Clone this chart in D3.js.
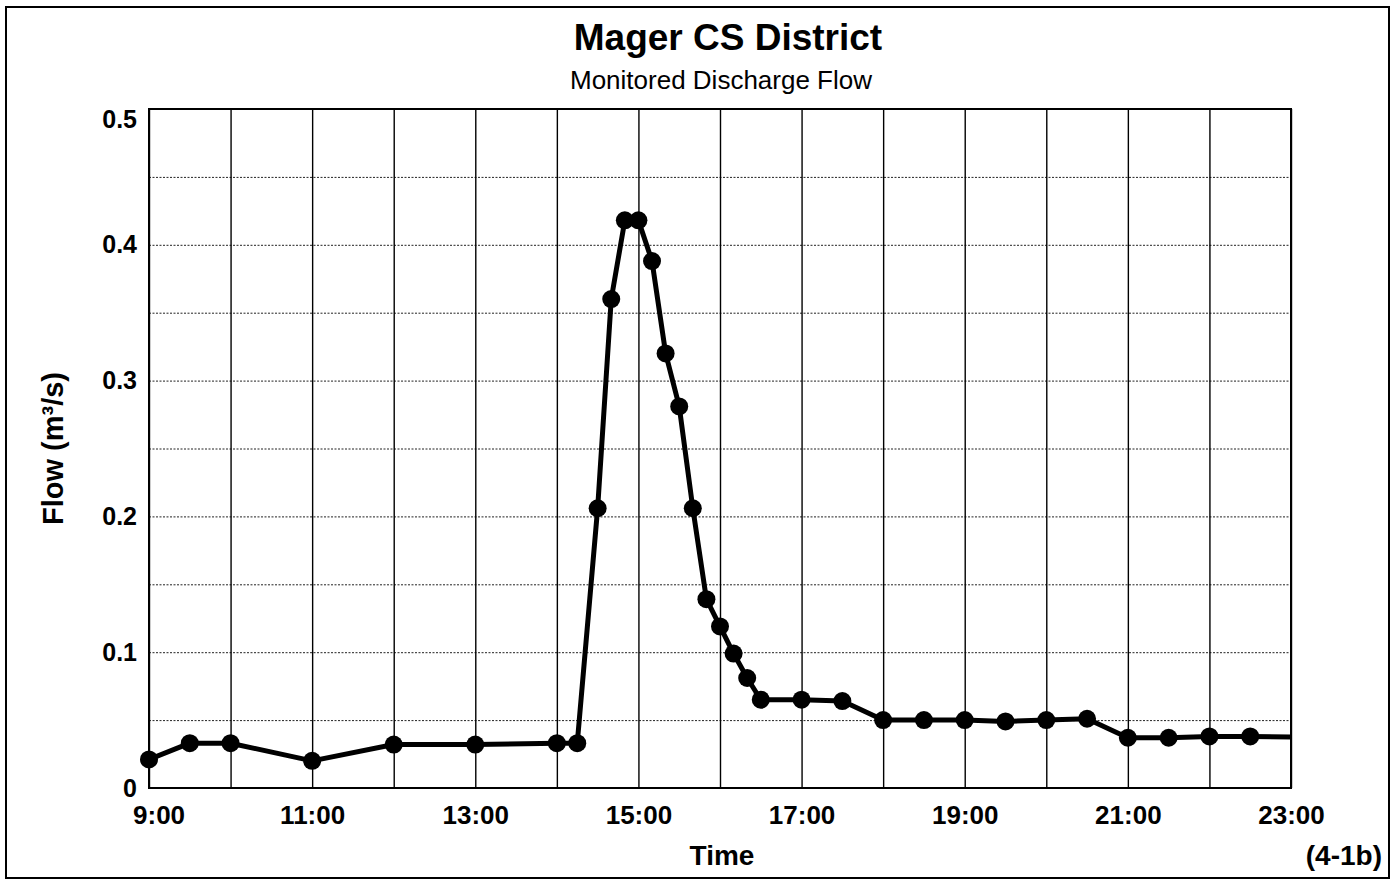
<!DOCTYPE html>
<html><head><meta charset="utf-8">
<script src="https://cdn.jsdelivr.net/npm/d3@7/dist/d3.min.js"></script>
<style>
html,body{margin:0;padding:0;background:#fff;}
svg{display:block;font-family:"Liberation Sans",Arial,Helvetica,sans-serif;}
</style></head><body>
<svg id="chart" width="1395" height="888"></svg>
<script>
// ---- data ----
const times = ["9:00","9:30","10:00","11:00","12:00","13:00","14:00","14:15","14:30","14:40","14:50","15:00",
  "15:10","15:20","15:30","15:40","15:50","16:00","16:10","16:20","16:30","17:00","17:30","18:00","18:30",
  "19:00","19:30","20:00","20:30","21:00","21:30","22:00","22:30","23:30"];
const flows = [0.021,0.033,0.033,0.020,0.032,0.032,0.033,0.033,0.206,0.360,0.418,0.418,
  0.388,0.320,0.281,0.206,0.139,0.119,0.099,0.081,0.065,0.065,0.064,0.050,0.050,
  0.050,0.049,0.050,0.051,0.037,0.037,0.038,0.038,0.037];
const xDomain = ["9:00","23:00"];
const xTickLabels = ["9:00","11:00","13:00","15:00","17:00","19:00","21:00","23:00"];
const xGridTimes = ["9:00","10:00","11:00","12:00","13:00","14:00","15:00","16:00","17:00","18:00","19:00","20:00","21:00","22:00","23:00"];
const yDomain = [0,0.5];
const yTickValues = [0,0.1,0.2,0.3,0.4,0.5];
const yGridValues = [0.05,0.1,0.15,0.2,0.25,0.3,0.35,0.4,0.45];
const titleText = "Mager CS District";
const subtitleText = "Monitored Discharge Flow";
const xTitleText = "Time";
const yTitleText = "Flow (m³/s)";
const figLabelText = "(4-1b)";

// ---- layout ----
const W = 1395, H = 888;
const plot = {left:149, top:109, right:1291, bottom:788};
const parse = d3.timeParse("%H:%M");
const fmt = d3.timeFormat("%-H:%M");

const svg = d3.select("#chart");
svg.append("rect").attr("x",0).attr("y",0).attr("width",W).attr("height",H).attr("fill","#fff");
// outer frame
svg.append("rect").attr("x",6).attr("y",7).attr("width",1383).attr("height",871)
  .attr("fill","none").attr("stroke","#000").attr("stroke-width",2);

const x = d3.scaleTime().domain(xDomain.map(parse)).range([plot.left, plot.right]);
const y = d3.scaleLinear().domain(yDomain).range([plot.bottom, plot.top]);
const pw = plot.right - plot.left, ph = plot.bottom - plot.top;

// horizontal dotted gridlines
svg.append("g").attr("transform",`translate(${plot.left},0)`)
  .call(d3.axisLeft(y).tickValues(yGridValues).tickSize(-pw).tickFormat(""))
  .call(g=>g.select(".domain").remove())
  .call(g=>g.selectAll(".tick line").attr("stroke","#222").attr("stroke-width",1).attr("stroke-dasharray","2,1.5"));

// vertical solid gridlines
svg.append("g").attr("transform",`translate(0,${plot.bottom})`)
  .call(d3.axisBottom(x).tickValues(xGridTimes.map(parse)).tickSize(-ph).tickFormat(""))
  .call(g=>g.select(".domain").remove())
  .call(g=>g.selectAll(".tick line").attr("stroke","#000").attr("stroke-width",1.4));

// plot border
svg.append("rect").attr("x",plot.left).attr("y",plot.top).attr("width",pw).attr("height",ph)
  .attr("fill","none").attr("stroke","#000").attr("stroke-width",2);

// y tick labels
const yAx = svg.append("g").attr("transform",`translate(${plot.left},0)`)
  .call(d3.axisLeft(y).tickValues(yTickValues).tickSize(0).tickPadding(12).tickFormat(d3.format("~g")))
  .call(g=>g.select(".domain").remove());
yAx.selectAll("text").attr("font-size",25).attr("font-weight","bold").attr("fill","#000")
  .attr("font-family","'Liberation Sans',Arial,sans-serif");
// keep top label inside (as in reference, pushed below the top edge)
yAx.selectAll(".tick").each(function(d){
  const yy = y(d);
  if (yy < plot.top + 11) d3.select(this).attr("transform",`translate(0,${plot.top + 11})`);
});

// x tick labels
const xAx = svg.append("g").attr("transform",`translate(0,${plot.bottom})`)
  .call(d3.axisBottom(x).tickValues(xTickLabels.map(parse)).tickSize(0).tickPadding(18).tickFormat(fmt))
  .call(g=>g.select(".domain").remove());
xAx.selectAll("text").attr("font-size",26).attr("font-weight","bold").attr("fill","#000")
  .attr("font-family","'Liberation Sans',Arial,sans-serif").attr("dy","0.71em");
xAx.selectAll(".tick").each(function(d){
  const t = d3.select(this).select("text");
  const w = t.node().getComputedTextLength();
  const cx = x(d);
  if (cx - w/2 < plot.left - 16) d3.select(this).attr("transform",`translate(${plot.left - 16 + w/2},0)`);
});

// line (clipped to plot)
svg.append("clipPath").attr("id","clip").append("rect")
  .attr("x",plot.left).attr("y",plot.top).attr("width",pw).attr("height",ph);
const data = times.map((t,i)=>({t:parse(t), v:flows[i]}));
svg.append("path").datum(data).attr("clip-path","url(#clip)")
  .attr("fill","none").attr("stroke","#000").attr("stroke-width",5).attr("stroke-linejoin","round")
  .attr("d", d3.line().x(d=>x(d.t)).y(d=>y(d.v)));
const end = parse(xDomain[1]);
svg.append("g").selectAll("circle").data(data.filter(d=>d.t <= end)).join("circle")
  .attr("cx",d=>x(d.t)).attr("cy",d=>y(d.v)).attr("r",9).attr("fill","#000");

// titles
svg.append("text").attr("x",728).attr("y",50).attr("text-anchor","middle")
  .attr("font-size",37).attr("font-weight","bold").text(titleText);
svg.append("text").attr("x",721).attr("y",89).attr("text-anchor","middle")
  .attr("font-size",26).text(subtitleText);
svg.append("text").attr("x",722).attr("y",865).attr("text-anchor","middle")
  .attr("font-size",28).attr("font-weight","bold").text(xTitleText);
svg.append("text").attr("transform",`translate(63,${(plot.top+plot.bottom)/2}) rotate(-90)`)
  .attr("text-anchor","middle").attr("font-size",29).attr("font-weight","bold").text(yTitleText);
svg.append("text").attr("x",1382).attr("y",865).attr("text-anchor","end")
  .attr("font-size",28).attr("font-weight","bold").text(figLabelText);
</script>
</body></html>
